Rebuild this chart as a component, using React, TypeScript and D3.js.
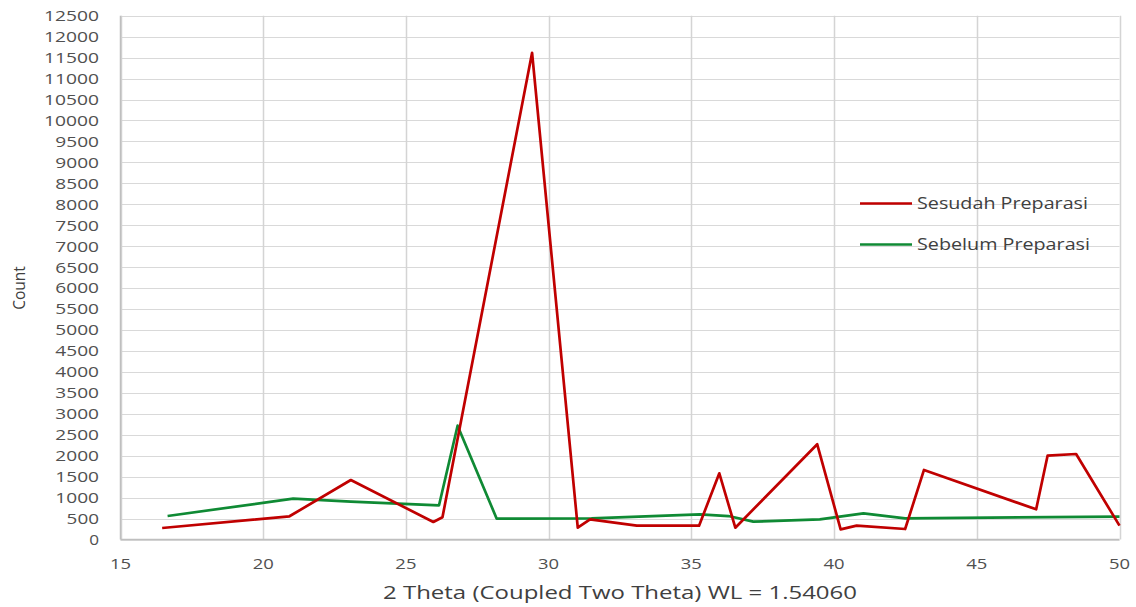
import React from "react";
import * as d3 from "d3";

const sesudahX = [16.46, 20.92, 23.07, 25.96, 26.28, 29.42, 31.02, 31.45, 33.09, 35.27, 35.98, 36.54, 39.41, 40.23, 40.79, 42.49, 43.15, 47.08, 47.48, 48.48, 50.0];
const sesudahY = [275, 554, 1420, 418, 530, 11613, 282, 482, 330, 330, 1580, 282, 2272, 243, 330, 250, 1660, 720, 2000, 2040, 330];

const sebelumX = [16.65, 21.05, 23.07, 26.16, 26.81, 28.18, 31.5, 35.3, 36.3, 37.17, 39.5, 41.03, 42.49, 50.0];
const sebelumY = [561, 974, 902, 816, 2716, 497, 505, 601, 560, 425, 482, 625, 506, 544];

const xTicks = [15, 20, 25, 30, 35, 40, 45, 50];
const yTicks = d3.range(0, 12501, 500);

const seriesNames = ["Sesudah Preparasi", "Sebelum Preparasi"];
const seriesColors = ["#c00000", "#0f8a34"];
const legendWidths = [171, 173];

const W = 1136;
const H = 607;
const FONT = "'Open Sans', 'Noto Sans', sans-serif";
const DIGIT = 11.3;

export default function App() {
  const x = d3.scaleLinear().domain([15, 50]).range([120.5, 1119.5]);
  const y = d3.scaleLinear().domain([0, 12500]).range([539.5, 15.7]);
  const line = d3
    .line<[number, number]>()
    .x((d) => x(d[0]))
    .y((d) => y(d[1]));
  const red: [number, number][] = sesudahX.map((v, i) => [v, sesudahY[i]]);
  const green: [number, number][] = sebelumX.map((v, i) => [v, sebelumY[i]]);
  const tl = (s: string) => s.length * DIGIT - 1.5;

  return (
    <svg
      width={W}
      height={H}
      style={{ position: "absolute", left: 0, top: 0, background: "#fff" }}
      fontFamily={FONT}
    >
      {yTicks.map((t) => (
        <line
          key={"gy" + t}
          x1={x(15)}
          x2={x(50)}
          y1={Math.round(y(t)) + 0.5}
          y2={Math.round(y(t)) + 0.5}
          stroke="#d9d9d9"
          strokeWidth={1}
        />
      ))}
      {xTicks.map((t) => (
        <line
          key={"gx" + t}
          x1={Math.round(x(t)) + 0.5}
          x2={Math.round(x(t)) + 0.5}
          y1={y(12500)}
          y2={y(0)}
          stroke="#d4d4d4"
          strokeWidth={1.5}
        />
      ))}
      <line x1={x(15)} x2={x(15)} y1={y(12500)} y2={y(0)} stroke="#bfbfbf" strokeWidth={1.5} />
      <line x1={x(15)} x2={x(50)} y1={y(0)} y2={y(0)} stroke="#bfbfbf" strokeWidth={1.5} />

      {yTicks.map((t) => (
        <text
          key={"ty" + t}
          x={99 - tl(String(t))}
          y={y(t)}
          textLength={tl(String(t))}
          lengthAdjust="spacingAndGlyphs"
          dy="0.36em"
          fontSize={15}
          fill="#505050"
        >
          {t}
        </text>
      ))}
      {xTicks.map((t) => (
        <text
          key={"tx" + t}
          x={x(t) - tl(String(t)) / 2}
          y={563.5}
          textLength={tl(String(t))}
          lengthAdjust="spacingAndGlyphs"
          dy="0.36em"
          fontSize={15}
          fill="#505050"
        >
          {t}
        </text>
      ))}
      <text
        x={383}
        y={593}
        textLength={474}
        lengthAdjust="spacingAndGlyphs"
        dy="0.36em"
        fontSize={18}
        fill="#404040"
      >
        2 Theta (Coupled Two Theta) WL = 1.54060
      </text>
      <text
        transform={`translate(19,288) rotate(-90)`}
        textAnchor="middle"
        dy="0.36em"
        fontSize={15.5}
        fill="#404040"
      >
        Count
      </text>

      <path d={line(green) || ""} fill="none" stroke={seriesColors[1]} strokeWidth={2.7} strokeLinejoin="round" />
      <path d={line(red) || ""} fill="none" stroke={seriesColors[0]} strokeWidth={2.7} strokeLinejoin="round" />

      {seriesNames.map((n, i) => (
        <g key={n} transform={`translate(0,${203.5 + i * 41})`}>
          <line x1={860} x2={912} y1={0} y2={0} stroke={seriesColors[i]} strokeWidth={2.7} />
          <text
            x={917}
            y={0}
            textLength={legendWidths[i]}
            lengthAdjust="spacingAndGlyphs"
            dy="0.36em"
            fontSize={15.5}
            fill="#404040"
          >
            {n}
          </text>
        </g>
      ))}
    </svg>
  );
}
